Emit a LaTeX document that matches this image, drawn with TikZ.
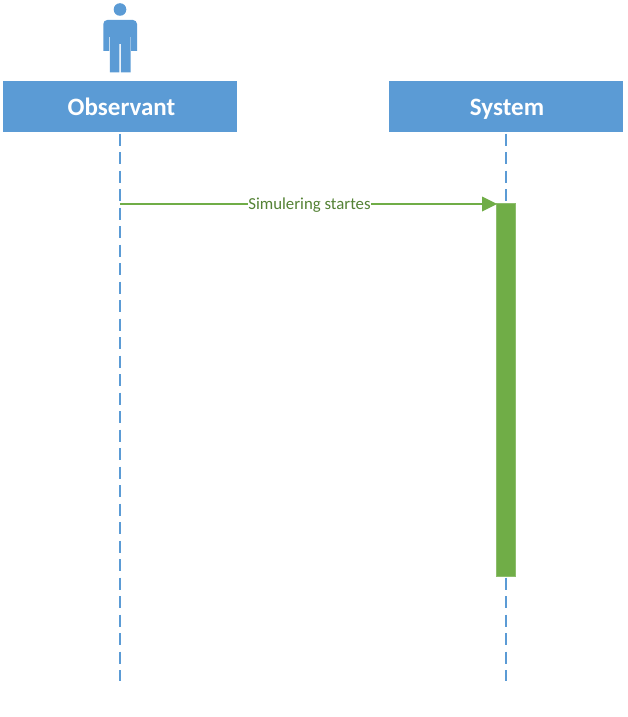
\documentclass[tikz,border=0pt]{standalone}
\usepackage{fontspec}
\setmainfont{Carlito}
\usepackage{tikz}
\definecolor{boxblue}{HTML}{5B9BD5}
\definecolor{bargreen}{HTML}{70AD47}
\definecolor{textgreen}{HTML}{548235}
\tikzset{
	headbox/.style={fill=boxblue,minimum width=234pt,minimum height=51pt,inner sep=0pt},
	headtext/.style={text=white,font=\fontsize{25}{28}\selectfont\bfseries,inner sep=0pt,text height=16pt,text depth=0pt},
	lifeline/.style={draw=boxblue,line width=1.8pt,dash pattern=on 12pt off 6.5pt},
	activebar/.style={fill=bargreen,draw=bargreen!80!white,line width=0.5pt,minimum width=19pt,minimum height=373pt,inner sep=0pt},
	message/.style={draw=bargreen,line width=2pt},
	msgtip/.style={fill=bargreen}
}
\begin{document}
\begin{tikzpicture}[x=1pt,y=-1pt]
	\useasboundingbox (0,0) rectangle (627,717);
	
	\node[headbox] (obs) at (120,106.5) {};
	\node[headbox] (sys) at (506,106.5) {};
	\node[headtext] (obstext) at (121.5,107.5) {Observant};
	\node[headtext] (systext) at (507,107.5) {System};
	\coordinate (obsend) at (120,681);
	\coordinate (sysend) at (506,681);
	\coordinate (obsmsg) at (120,204);
	
	\draw[lifeline] ([yshift=-1.5pt]obs.south) -- (obsend);
	\draw[lifeline] ([yshift=-1.5pt]sys.south) -- (sysend);
	
	\node[activebar] (bar) at (506,389.5) {};
	
	% message with its arrow head
	\coordinate (tipbase) at (482,204);
	\draw[message] (obsmsg) -- (tipbase);
	\fill[msgtip] (482,196.5) -- (497,204) -- (482,211.5) -- cycle;
	\node[fill=white,text=textgreen,font=\fontsize{16.8}{18}\selectfont,inner sep=0.5pt] (msg) at (309.5,205.5) {Simulering startes};
	
	% person above the observant
	\node[circle,fill=boxblue,minimum size=12.6pt,inner sep=0pt] (head) at (120,9.5) {};
	\fill[boxblue] (103.3,51) -- (103.3,24) arc[start angle=180,end angle=90,radius=4pt] -- (133,20) arc[start angle=90,end angle=0,radius=4pt] -- (137,51) -- (131.2,51) -- (131.2,37) -- (130.5,37) -- (130.5,72.3) -- (120.8,72.3) -- (120.8,44) -- (119.4,44) -- (119.4,72.3) -- (109.8,72.3) -- (109.8,37) -- (109.1,37) -- (109.1,51) -- cycle;
	
\end{tikzpicture}
\end{document}
